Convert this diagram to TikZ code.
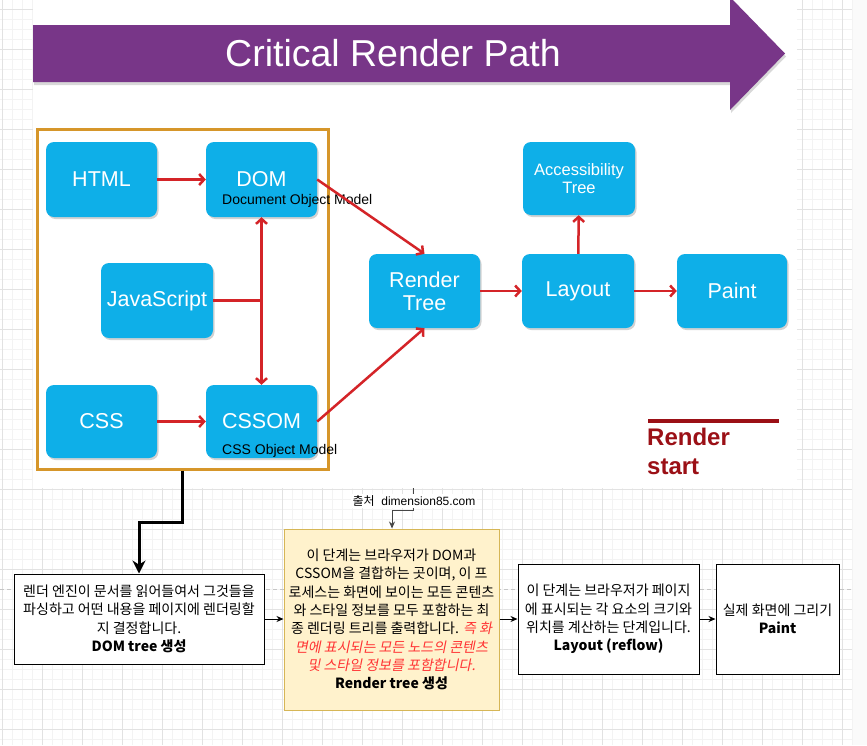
\documentclass[tikz,border=0pt]{standalone}
\usepackage{fontspec}
\setmainfont{Liberation Sans}
\newfontfamily\kr{Noto Sans CJK KR}
\newfontfamily\krit{Noto Sans CJK KR}[FakeSlant=0.2]
\usetikzlibrary{arrows.meta,shadows}

\definecolor{pathpurple}{RGB}{120,54,136}
\definecolor{boxblue}{RGB}{14,175,232}
\definecolor{flowred}{RGB}{212,36,40}
\definecolor{grouporange}{RGB}{214,150,42}
\definecolor{startred}{RGB}{155,16,22}
\definecolor{notefill}{RGB}{255,242,204}
\definecolor{noteline}{RGB}{214,182,86}
\definecolor{hlred}{RGB}{255,51,51}
\definecolor{gridminor}{RGB}{243,243,243}
\definecolor{gridmajor}{RGB}{226,226,226}
\definecolor{linkgray}{RGB}{70,70,70}

\tikzset{
  stagebox/.style={fill=boxblue, rounded corners=8pt, text=white,
    font=\fontsize{21.5}{24}\selectfont, align=center, inner sep=2pt,
    minimum width=111pt, minimum height=75pt,
    drop shadow={shadow xshift=1.5pt, shadow yshift=-2pt, opacity=0.35}},
  flow/.style={draw=flowred, line width=2.5pt,
    -{Straight Barb[length=5pt,width=11pt]}},
  stepnote/.style={draw=black, line width=1pt, fill=white, align=center,
    font=\kr\fontsize{14}{18.3}\selectfont, inner sep=1pt},
  steplink/.style={draw=black, line width=1pt,
    -{Stealth[length=7pt,width=6pt]}},
  tag/.style={anchor=west, inner sep=0pt, font=\fontsize{14}{16}\selectfont}
}

\begin{document}
\begin{tikzpicture}[x=1pt, y=-1pt]
  \useasboundingbox (0,0) rectangle (867,745);

  % page grid
  \fill[gray!4] (852,0) rectangle (867,745);
  \foreach \x in {2,12,...,852} \draw[gridminor, line width=0.6pt] (\x,0) -- (\x,745);
  \foreach \y in {9,19,...,739} \draw[gridminor, line width=0.6pt] (0,\y) -- (852,\y);
  \foreach \x in {2,42,...,842} \draw[gridmajor, line width=0.6pt] (\x,0) -- (\x,745);
  \foreach \y in {9,49,...,729} \draw[gridmajor, line width=0.6pt] (0,\y) -- (852,\y);
  \draw[gray!45, dash pattern=on 4pt off 3pt, line width=0.6pt] (0,589) -- (852,589);

  % screenshot
  \fill[white] (33,0) rectangle (797,488);
  \fill[pathpurple, drop shadow={shadow xshift=1pt, shadow yshift=-3pt, opacity=0.3}]
    (33,25) -- (730,25) -- (730,-3) -- (785,53.5) -- (730,110) -- (730,82) -- (33,82) -- cycle;
  \node[text=white, font=\fontsize{37.5}{40}\selectfont] (title) at (393,53.5) {Critical Render Path};

  \node[draw=grouporange, line width=3pt, minimum width=291pt, minimum height=340pt, inner sep=0pt] (grp) at (182.5,299) {};

  \node[stagebox] (html) at (101.5,179.5) {HTML};
  \node[stagebox] (dom) at (261.5,179.5) {DOM};
  \node[stagebox, minimum width=112pt] (js) at (157,300.5) {JavaScript};
  \node[stagebox, minimum height=73pt] (css) at (101.5,421.5) {CSS};
  \node[stagebox, minimum height=73pt] (cssom) at (261.5,421.5) {CSSOM};
  \node[stagebox, minimum height=74pt, font=\fontsize{21.5}{23}\selectfont] (rtree) at (424.5,291) {Render\\Tree};
  \node[stagebox, minimum width=112pt, minimum height=74pt] (layout) at (578,291) {Layout};
  \node[stagebox, minimum width=112pt, minimum height=73pt, font=\fontsize{16.5}{18}\selectfont] (access) at (579,178.5) {Accessibility\\Tree};
  \node[stagebox, minimum width=110pt, minimum height=74pt] (paint) at (732,291) {Paint};

  \node[tag] (domname) at (222,201) {Document Object Model};
  \node[tag] (cssomname) at (222,451) {CSS Object Model};

  \draw[flow] (html) -- (dom);
  \draw[flow] (css) -- (cssom);
  \draw[flow] (dom.east) -- (rtree.north);
  \draw[flow] (cssom.east) -- (rtree.south);
  \draw[flow, -] (js.east) -- (js.east -| dom.south);
  \draw[flow, {Straight Barb[length=5pt,width=11pt]}-{Straight Barb[length=5pt,width=11pt]}] (dom.south) -- (cssom.north);
  \draw[flow] (rtree) -- (layout);
  \draw[flow] (layout) -- (paint);
  \draw[flow] (layout) -- (access);

  \draw[startred, line width=4pt] (648,421) -- (779,421);
  \node[anchor=north west, align=left, inner sep=0pt, text=startred,
    font=\bfseries\fontsize{24}{29}\selectfont] (rstart) at (647,428) {Render\\start};

  % steps below
  \node[stepnote, minimum width=250pt, minimum height=90pt] (domstep) at (139,619)
    {렌더 엔진이 문서를 읽어들여서 그것들을\\파싱하고 어떤 내용을 페이지에 렌더링할\\지 결정합니다.\\\textbf{DOM tree 생성}};
  \node[stepnote, draw=noteline, fill=notefill, minimum width=215pt, minimum height=181pt] (rtstep) at (391.5,619.5)
    {이 단계는 브라우저가 DOM과\\CSSOM을 결합하는 곳이며, 이 프\\로세스는 화면에 보이는 모든 콘텐츠\\와 스타일 정보를 모두 포함하는 최\\종 렌더링 트리를 출력합니다. {\krit\color{hlred}즉 화}\\{\krit\color{hlred}면에 표시되는 모든 노드의 콘텐츠}\\{\krit\color{hlred}및 스타일 정보를 포함합니다.}\\\textbf{Render tree 생성}};
  \node[stepnote, minimum width=181pt, minimum height=110pt] (laystep) at (608.5,619)
    {이 단계는 브라우저가 페이지\\에 표시되는 각 요소의 크기와\\위치를 계산하는 단계입니다.\\\textbf{Layout (reflow)}};
  \node[stepnote, minimum width=123pt, minimum height=110pt] (paintstep) at (777.5,619)
    {실제 화면에 그리기\\\textbf{Paint}};

  \draw[black, line width=3pt, -{Stealth[length=13pt,width=13pt]}] (grp.south) -- ++(0,52) -| (domstep.north);
  \draw[steplink] (domstep.east) -- (domstep.east -| rtstep.west);
  \draw[steplink] (rtstep.east |- laystep.west) -- (laystep.west);
  \draw[steplink] (laystep) -- (paintstep);

  \coordinate (src) at (413,488);
  \draw[linkgray, line width=0.8pt, -{Stealth[length=7pt,width=6pt]}] (src) -- ++(0,22) -| (rtstep.north -| 392,0);
  \node[fill=white, inner sep=1.5pt, font=\fontsize{12}{14}\selectfont] (srcname) at (414,501) {{\kr 출처}\ \ dimension85.com};
\end{tikzpicture}
\end{document}
